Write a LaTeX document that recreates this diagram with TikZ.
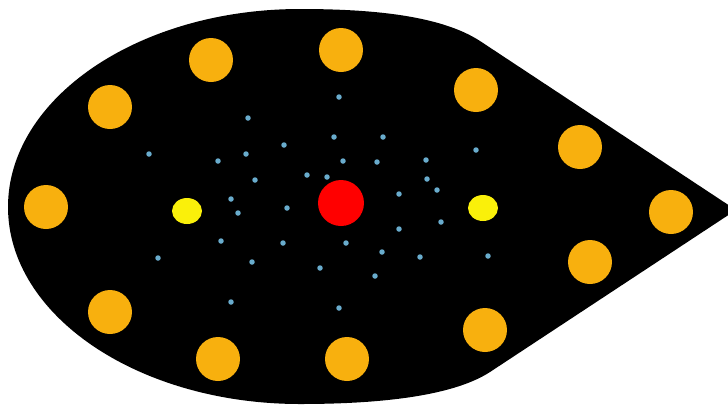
\documentclass[tikz,border=0pt]{standalone}
\usepackage{tikz}
\usetikzlibrary{shapes.geometric}

\begin{document}
\begin{tikzpicture}[x=0.02cm, y=-0.02cm,
    bead/.style={circle, fill=myorange, inner sep=0pt, minimum size=0.88cm},
    core/.style={circle, fill=myred, inner sep=0pt, minimum size=0.92cm},
    pole/.style={ellipse, fill=myyellow, inner sep=0pt, minimum width=0.6cm, minimum height=0.52cm},
    spark/.style={circle, fill=myblue, inner sep=0pt, minimum size=0.11cm}]
        \definecolor{myorange}{RGB}{248,176,14}
        \definecolor{myyellow}{RGB}{250,240,10}
        \definecolor{myred}{RGB}{255,0,0}
        \definecolor{myblue}{RGB}{105,172,205}

        \useasboundingbox (0,0) rectangle (728,407);
        \clip (0,0) rectangle (728,407);

        % body of the drop
        \fill[black] (736,210) -- (480,41)
            .. controls (440,15) and (370,9) .. (300,9)
            .. controls (139,9) and (8,98) .. (8,207)
            .. controls (8,316) and (139,404) .. (300,404)
            .. controls (370,404) and (450,398) .. (490,372) -- cycle;

        % ring of beads
        \node[bead] (b1) at (211,60) {};
        \node[bead] (b2) at (341,50) {};
        \node[bead] (b3) at (476,90) {};
        \node[bead] (b4) at (110,107) {};
        \node[bead] (b5) at (580,147) {};
        \node[bead] (b6) at (46,207) {};
        \node[bead] (b7) at (671,212) {};
        \node[bead] (b8) at (590,262) {};
        \node[bead] (b9) at (110,312) {};
        \node[bead] (b10) at (485,330) {};
        \node[bead] (b11) at (218,359) {};
        \node[bead] (b12) at (347,359) {};

        \node[core] (center) at (341,203) {};
        \node[pole] (leftpole) at (187,211) {};
        \node[pole] (rightpole) at (483,208) {};

        % small blue dots
        \foreach \px/\py [count=\i] in {339/97, 248/118, 334/137, 383/137, 284/145, 246/154,
            149/154, 476/150, 218/161, 343/161, 377/162, 426/160, 307/175, 327/177,
            427/179, 255/180, 437/190, 399/194, 231/199, 287/208, 238/213, 441/222,
            399/229, 221/241, 283/243, 346/243, 382/252, 420/257, 488/256, 158/258,
            252/262, 320/268, 375/276, 231/302, 339/308}
            \node[spark] (d\i) at (\px,\py) {};
    \end{tikzpicture}
\end{document}
